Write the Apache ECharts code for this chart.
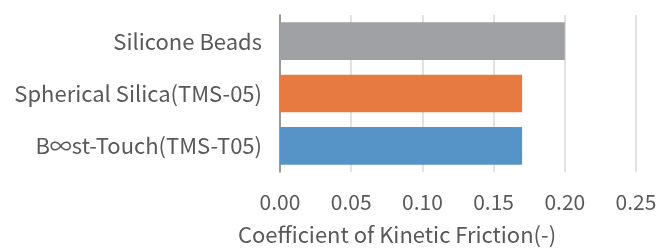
<!DOCTYPE html>
<html>
<head>
<meta charset="utf-8">
<script src="https://cdn.jsdelivr.net/npm/echarts@6/dist/echarts.min.js"></script>
<style>
  html, body { margin: 0; padding: 0; background: #fff; }
  #chart { width: 660px; height: 251px; }
</style>
</head>
<body>
<div id="chart"></div>
<script>
// 数据
const categories = ['Silicone Beads', 'Spherical Silica(TMS-05)', 'B∞st-Touch(TMS-T05)'];
const frictionValues = [0.20, 0.17, 0.17];
const xTicks = [0, 0.05, 0.10, 0.15, 0.20, 0.25];
const barColors = ['#A0A1A4', '#E67A41', '#5694C8'];

const chart = echarts.init(document.getElementById('chart'));
const font = '"Noto Sans CJK JP", "Noto Sans", sans-serif';

const options = {
  animation: false,
  grid: { left: 280, right: 24, top: 15, bottom: 78 },
  xAxis: {
    type: 'value',
    min: xTicks[0],
    max: xTicks[xTicks.length - 1],
    interval: 0.05,
    name: 'Coefficient of Kinetic Friction(-)',
    nameLocation: 'middle',
    nameGap: 52,
    // 标题偏左，用 padding 挪过去
    nameTextStyle: { fontFamily: font, fontSize: 22, color: '#595959', padding: [0, 122, 0, 0] },
    axisLine: { show: false },
    axisTick: { show: false },
    axisLabel: {
      margin: 20,
      fontFamily: font,
      fontSize: 21,
      color: '#595959',
      formatter: (v) => v.toFixed(2),
    },
    splitLine: { lineStyle: { color: '#D9D9D9', width: 1.5 } },
  },
  yAxis: {
    type: 'category',
    inverse: true,
    data: categories,
    axisLine: { lineStyle: { color: '#808080', width: 1.5 } },
    axisTick: { show: false },
    axisLabel: { margin: 18, fontFamily: font, fontSize: 22, color: '#595959' },
  },
  series: [
    {
      type: 'bar',
      barWidth: '72%',
      data: frictionValues.map((v, i) => ({ value: v, itemStyle: { color: barColors[i] } })),
    },
  ],
};
chart.setOption(options);
</script>
</body>
</html>
